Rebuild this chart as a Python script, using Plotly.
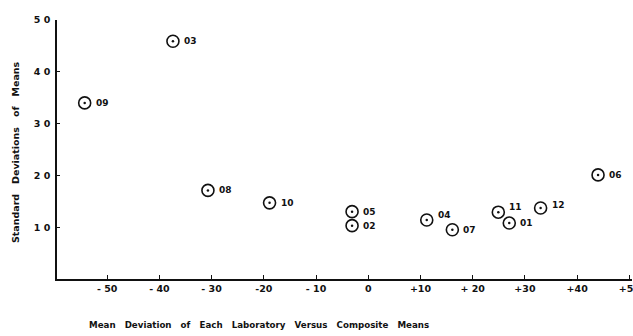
import plotly.graph_objects as go

labs = ["01", "02", "03", "04", "05", "06", "07", "08", "09", "10", "11", "12"]
mean_dev = [27.0, -3.1, -37.4, 11.2, -3.1, 44.0, 16.1, -30.7, -54.3, -18.9, 24.9, 33.0]
std_dev = [10.8, 10.3, 45.9, 11.4, 13.0, 20.1, 9.5, 17.1, 34.0, 14.7, 12.9, 13.7]
label_raise = [0, 0, 0, 5, 0, 0, 0, 0, 0, 0, 5, 3]

x_tickvals = [-50, -40, -30, -20, -10, 0, 10, 20, 30, 40, 50]
x_ticktext = ["- 50", "- 40", "- 30", "-20", "- 10", "0", "+10", "+ 20", "+30", "+40", "+50"]
y_tickvals = [10, 20, 30, 40, 50]
y_ticktext = ["1 0", "2 0", "3 0", "4 0", "5 0"]

FONT = "DejaVu Sans"
INK = "#111111"

fig = go.Figure()
fig.add_trace(go.Scatter(
    x=mean_dev, y=std_dev, mode="markers",
    marker=dict(symbol="circle-open", size=12, color=INK, line=dict(width=1.6, color=INK)),
    hoverinfo="skip", showlegend=False, cliponaxis=False))
fig.add_trace(go.Scatter(
    x=mean_dev, y=std_dev, mode="markers",
    marker=dict(symbol="circle", size=2.5, color=INK),
    hoverinfo="skip", showlegend=False, cliponaxis=False))

for lx, ly, t, r in zip(mean_dev, std_dev, labs, label_raise):
    fig.add_annotation(x=lx, y=ly, text="<b>" + t + "</b>", showarrow=False, xanchor="left", yanchor="middle",
                       xshift=9, yshift=r, font=dict(family=FONT, size=9, color=INK))

fig.add_annotation(xref="paper", yref="paper", x=0.052, y=-0.178, xanchor="left", yanchor="middle",
                   text="<b>Mean   Deviation   of   Each   Laboratory   Versus   Composite   Means</b>",
                   showarrow=False, font=dict(family=FONT, size=8.7, color=INK))
fig.add_annotation(xref="paper", yref="paper", x=-0.073, y=0.49, xanchor="center", yanchor="middle",
                   textangle=-90, text="<b>Standard   Deviations   of   Means</b>",
                   showarrow=False, font=dict(family=FONT, size=9.5, color=INK))

fig.update_layout(
    width=633, height=336,
    margin=dict(l=57, r=1, t=20, b=57),
    paper_bgcolor="white", plot_bgcolor="white",
    font=dict(family=FONT, color=INK),
)
fig.update_xaxes(range=[-59.6, 50.5], tickvals=x_tickvals, ticktext=["<b>" + s + "</b>" for s in x_ticktext],
                 ticks="inside", ticklen=4, tickcolor=INK, tickwidth=1, automargin=False,
                 ticklabeloverflow="allow",
                 showline=True, linecolor=INK, linewidth=1.5, showgrid=False, zeroline=False,
                 tickfont=dict(family=FONT, size=9.5, color=INK))
fig.update_yaxes(range=[0, 50], tickvals=y_tickvals, ticktext=["<b>" + s + "</b>" for s in y_ticktext],
                 ticks="inside", ticklen=3, tickcolor=INK, tickwidth=1, automargin=False,
                 ticklabelstandoff=3, ticklabeloverflow="allow",
                 showline=True, linecolor=INK, linewidth=1.5, showgrid=False, zeroline=False,
                 tickfont=dict(family=FONT, size=9.5, color=INK))

fig.write_html("out.html", config={"displayModeBar": False},
               post_script="document.body.style.margin='0';document.body.style.overflow='hidden';")
